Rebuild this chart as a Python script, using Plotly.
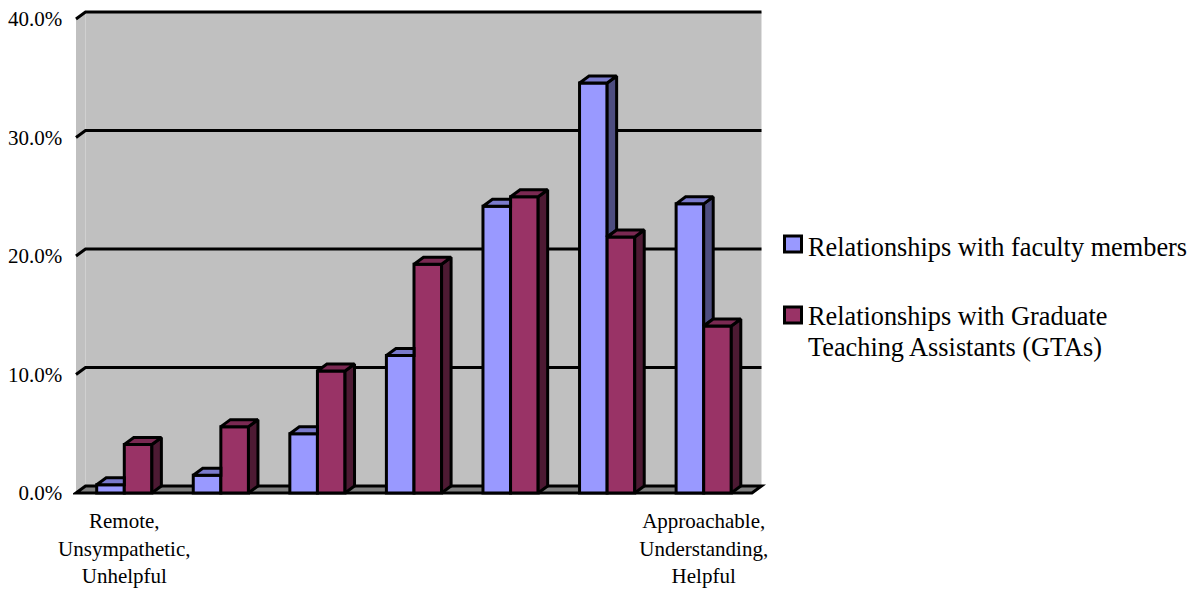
import plotly.graph_objects as go

categories = ["Remote,<br>Unsympathetic,<br>Unhelpful", "", "", "", "", "", "Approachable,<br>Understanding,<br>Helpful"]
faculty = [0.7, 1.5, 5.0, 11.6, 24.2, 34.6, 24.4]
gta = [4.1, 5.6, 10.3, 19.3, 25.0, 21.6, 14.1]
y_ticks = [0, 10, 20, 30, 40]
y_labels = ["0.0%", "10.0%", "20.0%", "30.0%", "40.0%"]
series_names = ["Relationships with faculty members",
                "Relationships with Graduate Teaching Assistants (GTAs)"]
legend_lines = [["Relationships with faculty members"],
                ["Relationships with Graduate", "Teaching Assistants (GTAs)"]]

BAND_PX = 96.57
UNIT_PX = 11.85
DX = 9.5 / BAND_PX
DY = 7 / UNIT_PX
BW = 1 / 3.5
N = len(categories)
LW = 3
FONT = "Liberation Serif"
BLUE, BLUE_TOP, BLUE_SIDE = "#9999FF", "#7A7ACC", "#4D4D80"
RED, RED_TOP, RED_SIDE = "#993366", "#7A2952", "#4D1A33"

fig = go.Figure()
centers = [i + 0.5 for i in range(N)]
fig.add_trace(go.Bar(x=centers, y=faculty, width=BW, offset=-BW, name=series_names[0],
                     marker=dict(color=BLUE, line=dict(color="black", width=LW))))
fig.add_trace(go.Bar(x=centers, y=gta, width=BW, offset=0, name=series_names[1],
                     marker=dict(color=RED, line=dict(color="black", width=LW))))


def poly(xs, ys, color):
    fig.add_trace(go.Scatter(x=xs + xs[:1], y=ys + ys[:1], mode="lines", fill="toself",
                             fillcolor=color, line=dict(color="black", width=LW),
                             showlegend=False, hoverinfo="skip"))


for c, f, g in zip(centers, faculty, gta):
    x0, x1, x2 = c - BW, c, c + BW
    if f > g:
        poly([x1, x1 + DX, x1 + DX, x1], [g, g + DY, f + DY, f], BLUE_SIDE)
        poly([x0, x1, x1 + DX, x0 + DX], [f, f, f + DY, f + DY], BLUE_TOP)
    else:
        poly([x0, x1, x1, x0 + DX], [f, f, f + DY, f + DY], BLUE_TOP)
    poly([x2, x2 + DX, x2 + DX, x2], [0, DY, g + DY, g], RED_SIDE)
    poly([x1, x2, x2 + DX, x1 + DX], [g, g, g + DY, g + DY], RED_TOP)

x_left, x_right = 0, N
shapes = [
    dict(type="path", layer="below", xref="x", yref="y", line=dict(width=0), fillcolor="#C0C0C0",
         path=f"M{x_left},0 L{x_left + DX},{DY} L{x_right + DX},{DY} L{x_right + DX},{y_ticks[-1] + DY} "
              f"L{x_left + DX},{y_ticks[-1] + DY} L{x_left},{y_ticks[-1]} Z"),
    dict(type="line", layer="below", xref="x", yref="y", x0=x_left + DX, x1=x_left + DX, y0=DY,
         y1=y_ticks[-1] + DY, line=dict(color="#D0D0D0", width=1)),
    dict(type="path", layer="below", xref="x", yref="y", fillcolor="#808080",
         line=dict(color="black", width=LW),
         path=f"M{x_left},0 L{x_left + DX},{DY} L{x_right + DX},{DY} L{x_right},0 Z"),
]
for t in y_ticks[1:]:
    shapes.append(dict(type="path", layer="below", xref="x", yref="y",
                       line=dict(color="black", width=LW),
                       path=f"M{x_left},{t} L{x_left + DX},{t + DY} L{x_right + DX},{t + DY}"))

PLOT_L, PLOT_R, PLOT_T, PLOT_B = 73, 766, 10, 497


def px(v):
    return (v - PLOT_L) / (PLOT_R - PLOT_L)


def py(v):
    return (PLOT_B - v) / (PLOT_B - PLOT_T)


annotations = []
legend_rows = [(244, 247, BLUE, legend_lines[0]), (315, 316, RED, legend_lines[1])]
for sw_y, text_y, color, lines in legend_rows:
    shapes.append(dict(type="rect", xref="paper", yref="paper", layer="above",
                       x0=px(784.5), x1=px(801.5), y0=py(sw_y + 8), y1=py(sw_y - 8),
                       fillcolor=color, line=dict(color="black", width=LW)))
    for k, line in enumerate(lines):
        annotations.append(dict(xref="paper", yref="paper", x=px(805.5), y=py(text_y + 31 * k),
                                xanchor="left", yanchor="middle", text=line, showarrow=False,
                                font=dict(family=FONT, size=26.3, color="black")))

fig.update_layout(
    width=1200, height=590, autosize=False, showlegend=False,
    margin=dict(l=PLOT_L, r=1200 - PLOT_R, t=PLOT_T, b=590 - PLOT_B, pad=0),
    paper_bgcolor="white", plot_bgcolor="white",
    barmode="overlay", shapes=shapes, annotations=annotations,
    font=dict(family=FONT, color="black", size=21),
    xaxis=dict(range=[(PLOT_L - 76) / BAND_PX, (PLOT_R - 76) / BAND_PX], automargin=False,
               tickmode="array", tickvals=centers, ticktext=categories,
               showgrid=False, zeroline=False, showline=False,
               ticks="outside", ticklen=5, tickcolor="rgba(0,0,0,0)", tickangle=0,
               tickfont=dict(family=FONT, size=21, color="black")),
    yaxis=dict(range=[(493 - PLOT_B) / UNIT_PX, (493 - PLOT_T) / UNIT_PX], automargin=False,
               tickmode="array", tickvals=y_ticks, ticktext=y_labels,
               showgrid=False, zeroline=False, showline=False,
               ticks="outside", ticklen=5.5, tickcolor="rgba(0,0,0,0)",
               tickfont=dict(family=FONT, size=21, color="black")),
)
fig.write_html("out.html", config={"displayModeBar": False},
               post_script="document.body.style.margin='0';")
